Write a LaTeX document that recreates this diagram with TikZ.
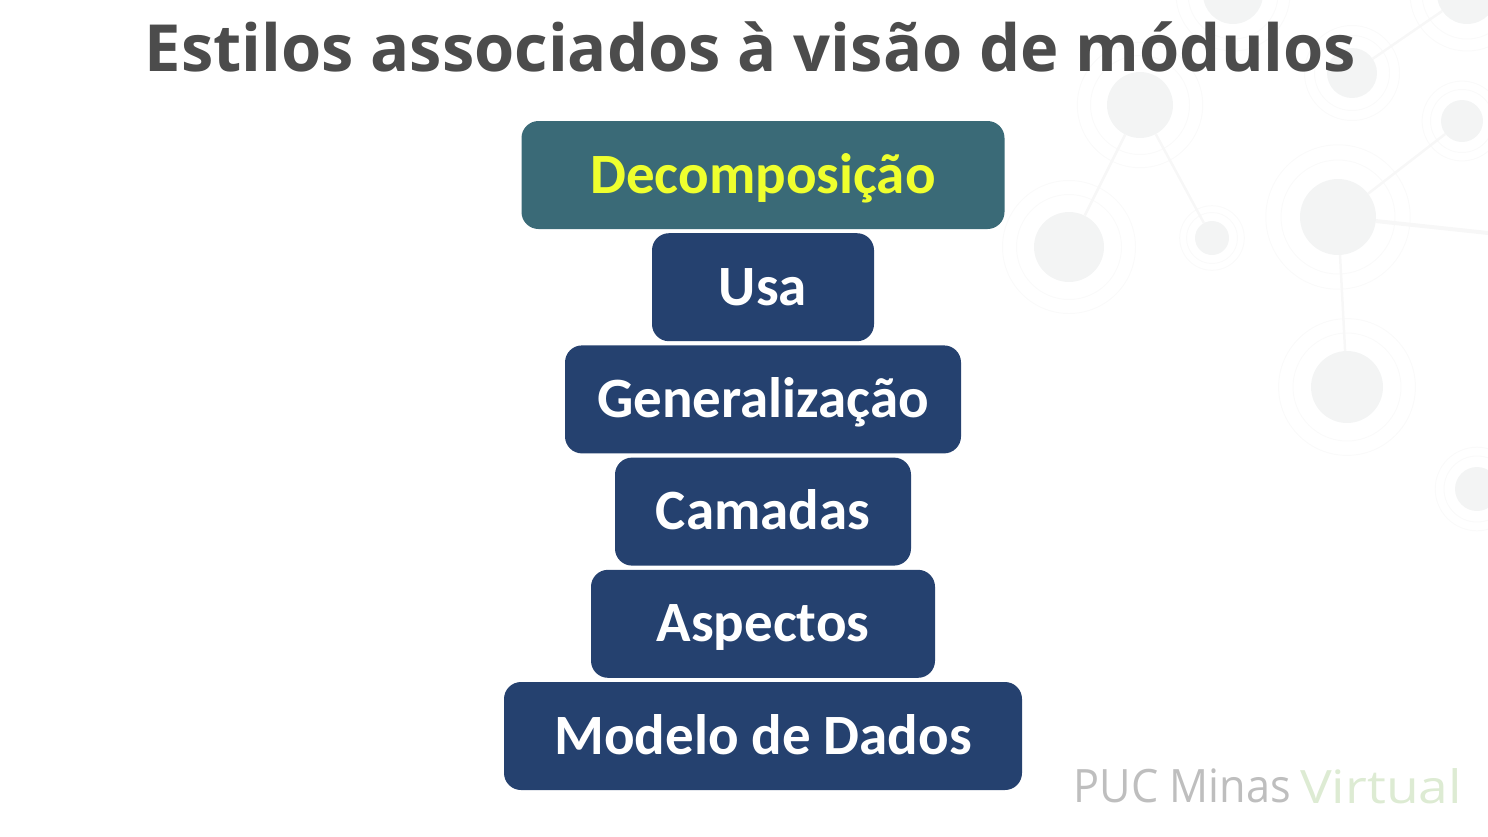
\documentclass[tikz,border=0pt]{standalone}
\usepackage{fontspec}
\setmainfont{Carlito}
\newfontfamily\titlefont{Open Sans}
\usetikzlibrary{positioning}
\definecolor{titlegray}{HTML}{4C4C4C}
\definecolor{tealbox}{HTML}{3A6A77}
\definecolor{navybox}{HTML}{25416F}
\definecolor{acidyellow}{HTML}{EFFF2E}
\definecolor{hubgray}{HTML}{F3F4F4}
\definecolor{ringgray}{HTML}{FAFAFA}
\definecolor{linkgray}{HTML}{F7F7F7}
\definecolor{footgray}{HTML}{BEBEBE}
\definecolor{footgreen}{HTML}{DDEBD3}
\tikzset{
  hub/.style={circle,fill=hubgray,inner sep=0pt},
  link/.style={draw=linkgray,line width=2.5pt},
  stylebox/.style={rectangle,rounded corners=17pt,fill=navybox,text=white,inner sep=0pt,
    minimum height=108pt,text height=46pt,text depth=10pt,font=\fontsize{57}{57}\selectfont\bfseries},
  foot/.style={inner xsep=0pt,font=\fontsize{46}{46}\selectfont\titlefont},
}
\begin{document}
\begin{tikzpicture}[x=1pt,y=-1pt]
  \useasboundingbox (0,0) rectangle (1488,836);
  % faint network behind the slide
  \coordinate (edge) at (1488,233);
  \foreach \name/\x/\y/\r in {a/1140/105/33,b/1069/247/35,c/1212/238/17,d/1338/217/38,
    e/1347/387/36,f/1462/121/21,g/1477/489/22,h/1352/73/25,i/1233/-6/30,j/1467/-6/30}
  {
    \draw [ringgray,line width=1pt] (\x,\y) circle ({1.5*\r});
    \draw [ringgray,line width=1pt] (\x,\y) circle ({1.9*\r});
    \node [hub,minimum size=2*\r pt] (\name) at (\x,\y) {};
  };
  \draw [link] (a) -- (b);
  \draw [link] (a) -- (c);
  \draw [link] (d) -- (f);
  \draw [link] (d) -- (e);
  \draw [link,line width=4pt] (d) -- (edge);
  \draw [link] (h) -- (j);
  \node [anchor=center,text=titlegray,font=\fontsize{65}{65}\selectfont\titlefont\bfseries] (title) at (750.5,47) {Estilos associados à visão de módulos};
  % the stack of boxes
  \node [stylebox,fill=tealbox,text=acidyellow,minimum width=483pt] (decomp) at (763,175) {Decomposição};
  \node [stylebox,minimum width=222pt,below=3.8pt of decomp] (usa) {Usa};
  \node [stylebox,minimum width=396pt,below=3.8pt of usa] (general) {Generalização};
  \node [stylebox,minimum width=296pt,below=3.8pt of general] (camadas) {Camadas};
  \node [stylebox,minimum width=344pt,below=3.8pt of camadas] (aspectos) {Aspectos};
  \node [stylebox,minimum width=518pt,below=3.8pt of aspectos] (modelo) {Modelo de Dados};
  \node [foot,anchor=east,text=footgray] (puc) at (1291,786) {\scalebox{0.94}[1]{PUC Minas}};
  \node [foot,anchor=west,text=footgreen] (virtual) at (1300,786) {\scalebox{1.16}[1]{Virtual}};
\end{tikzpicture}
\end{document}
